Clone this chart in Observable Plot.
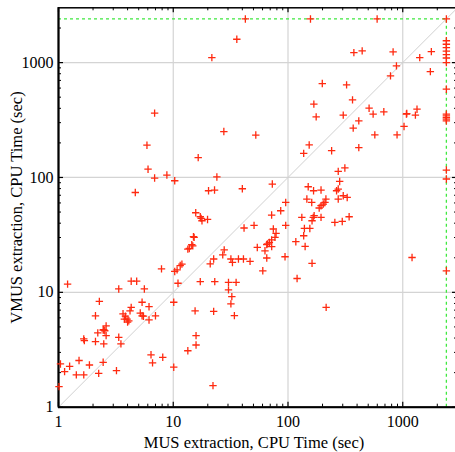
<!DOCTYPE html>
<html><head><meta charset="utf-8">
<script src="https://cdn.jsdelivr.net/npm/d3@7"></script>
<script src="https://cdn.jsdelivr.net/npm/@observablehq/plot@0.6"></script>
<style>body{margin:0;background:#fff}</style>
</head><body><div id="chart"></div>
<script>
// MUS extraction CPU time (x, seconds)
const musTime = [
  1.2, 3.35, 4.3, 4.8, 5.6, 2.27, 5.35, 6.15, 2.1, 4.3,
  4.2, 3.65, 3.83, 3.96, 3.75, 4.1, 4.0, 5.16, 5.35, 5.5,
  6.15, 7.0, 1.66, 1.68, 2.1, 2.2, 2.48, 2.6, 2.45, 2.53,
  2.6, 2.48, 3.35, 3.5, 6.4, 6.6, 8.1, 10.1, 10.1, 15.5,
  22.5, 15.8, 15.8, 13.4, 22.2, 17.2, 23, 7.9, 10.3, 10.8,
  11.5, 11.9, 11.0, 13.4, 13.8, 14.8, 15.2, 21, 22.5, 27.8,
  27, 1.01, 1.04, 1.13, 1.25, 1.51, 1.43, 1.66, 1.86, 2.24,
  2.45, 3.2,
  6.03, 6.88, 8.8, 10.3, 4.67, 21.7, 6.88, 5.9, 16.5, 24,
  20.3, 22.9, 27.6, 15.7, 17.2, 17.8, 19.9, 17.5, 52.4, 40,
  73, 95.5, 86.4, 72, 95.5, 50.6, 41.4, 74.5, 78.7, 77,
  72, 68.8, 66.1, 15, 14.5, 31.8, 32.8, 37, 40.9, 46.7,
  54, 63, 65.3, 72.1, 65.3, 60.3, 94.2, 30.3, 35.3, 30.3,
  32.4, 31.8, 34.1,
  199, 324, 168, 176, 365, 303, 414, 370, 509, 552,
  684, 571, 892, 1026, 1084, 153, 137, 240, 414, 274,
  313, 282, 150, 167, 194, 265, 274, 146, 161, 214,
  210, 274, 303, 328, 203, 194, 187, 132, 166, 169,
  194, 162, 256, 297, 341, 139, 155, 137, 117, 141,
  162, 120, 1205, 215,
  42.5, 35.8, 157, 598, 375, 443, 824, 881, 782, 1406,
  1775, 1740, 1076, 1331, 1289,
  2400, 2400, 2400, 2400, 2400, 2400, 2400, 2400, 2400, 2400,
  2400, 2400, 2400, 2400, 2400, 2400, 2400
];
// VMUS extraction CPU time (y, seconds)
const vmusTime = [
  11.8, 10.7, 12.5, 12.5, 10.7, 8.35, 8.2, 7.5, 6.25, 7.4,
  6.9, 6.5, 6.2, 5.85, 5.85, 5.65, 5.5, 6.6, 6.25, 6.2,
  5.75, 6.25, 3.93, 3.8, 3.73, 4.44, 4.73, 5.1, 4.7, 4.63,
  4.2, 3.56, 4.06, 3.56, 2.86, 2.43, 2.72, 2.23, 8.2, 6.9,
  6.83, 4.2, 3.48, 3.1, 1.54, 12.4, 12.4, 16, 15.2, 15.7,
  17.1, 17.6, 12.0, 23.8, 24.1, 25.4, 30.1, 17.7, 19.5, 23.4,
  21.2, 1.51, 2.38, 2.04, 2.27, 2.55, 1.91, 1.91, 2.33, 1.97,
  2.46, 2.08,
  118, 98.8, 105, 93.6, 74, 1105, 363, 191, 149, 101,
  76.6, 77.7, 251, 49.3, 45.5, 42, 43.1, 44, 234, 79.8,
  87.6, 60.6, 51.3, 47.1, 38.3, 38.3, 36.3, 35.6, 32.6, 30.1,
  28.6, 27.2, 26.4, 30.5, 26, 19.5, 18.2, 19.5, 19.5, 18.6,
  24.6, 23, 26, 25, 19.9, 15.4, 20.4, 12.2, 12.2, 10.5,
  9.18, 7.94, 6.27,
  657, 640, 435, 337, 474, 349, 311, 269, 401, 356,
  373, 235, 235, 278, 360, 192, 162, 171, 182, 113,
  121, 92.3, 83, 76.6, 77.7, 76.6, 79.3, 64.9, 60.6, 64.9,
  60.6, 64.9, 69.3, 67, 58.7, 56.8, 54.2, 44.9, 44.9, 46.5,
  44.9, 42, 40.6, 41.4, 45.5, 36, 36, 31.1, 27.6, 25.1,
  17.9, 13.2, 20.1, 7.4,
  2400, 1597, 2400, 2400, 1222, 1265, 1239, 936, 766, 1105,
  1247, 835, 356, 393, 349,
  2400, 1549, 1445, 1349, 1259, 1175, 1097, 1000, 587, 356,
  344, 332, 322, 311, 116, 97, 15.4
];
const timeout = 2400;
const axisDomain = [1, 3000];
const majorTicks = [1, 10, 100, 1000];
const minorTicks = [2,3,4,5,6,7,8,9,20,30,40,50,60,70,80,90,200,300,400,500,600,700,800,900,2000];
const xLabel = "MUS extraction, CPU Time (sec)";
const yLabel = "VMUS extraction, CPU Time (sec)";

const points = musTime.map((x, i) => ({x, y: vmusTime[i]}));

const W = 455, H = 452;
const mL = 58, mR = -2, mT = 7.3, mB = 45.3;
const innerW = W - mL - mR, innerH = H - mT - mB;

const plusSymbol = {draw(ctx, size) { const r = Math.sqrt(size / Math.PI); ctx.moveTo(-r, 0); ctx.lineTo(r, 0); ctx.moveTo(0, -r); ctx.lineTo(0, r); }};

const gridColor = "#d4d4d4";
const chart = Plot.plot({
  width: W, height: H,
  marginLeft: mL, marginRight: mR, marginTop: mT, marginBottom: mB,
  style: {fontFamily: "'Liberation Serif', 'DejaVu Serif', serif", background: "white", color: "black"},
  x: {type: "log", domain: axisDomain, axis: null},
  y: {type: "log", domain: axisDomain, axis: null},
  marks: [
    Plot.ruleX(majorTicks.slice(1), {x: d => d, stroke: gridColor, strokeWidth: 1.2}),
    Plot.ruleY(majorTicks.slice(1), {y: d => d, stroke: gridColor, strokeWidth: 1.2}),
    Plot.line(axisDomain, {x: d => d, y: d => d, stroke: "#d0d0d0", strokeWidth: 1}),
    Plot.ruleY([timeout], {y: d => d, x1: axisDomain[0], x2: timeout, stroke: "#3fe83f", strokeWidth: 1.3, strokeDasharray: "3,3"}),
    Plot.ruleX([timeout], {x: d => d, y1: axisDomain[0], y2: timeout, stroke: "#3fe83f", strokeWidth: 1.3, strokeDasharray: "3,3"}),
    // inward tick marks on all four sides
    Plot.ruleX(majorTicks, {x: d => d, insetTop: innerH - 5, stroke: "black", strokeWidth: 1.2}),
    Plot.ruleX(minorTicks, {x: d => d, insetTop: innerH - 3, stroke: "black", strokeWidth: 1}),
    Plot.ruleX(majorTicks, {x: d => d, insetBottom: innerH - 5, stroke: "black", strokeWidth: 1.2}),
    Plot.ruleX(minorTicks, {x: d => d, insetBottom: innerH - 3, stroke: "black", strokeWidth: 1}),
    Plot.ruleY(majorTicks, {y: d => d, insetRight: innerW - 5, stroke: "black", strokeWidth: 1.2}),
    Plot.ruleY(minorTicks, {y: d => d, insetRight: innerW - 3, stroke: "black", strokeWidth: 1}),
    Plot.ruleY(majorTicks, {y: d => d, insetLeft: innerW - 5, stroke: "black", strokeWidth: 1.2}),
    Plot.ruleY(minorTicks, {y: d => d, insetLeft: innerW - 3, stroke: "black", strokeWidth: 1}),
    Plot.frame({stroke: "black", strokeWidth: 1.5}),
    Plot.ruleX([axisDomain[0]], {x: d => d, stroke: "black", strokeWidth: 2}),
    Plot.ruleY([axisDomain[0]], {y: d => d, stroke: "black", strokeWidth: 2}),
    Plot.dot(points, {x: "x", y: "y", symbol: plusSymbol, r: 3.7, fill: "none", stroke: "#ff2a10", strokeWidth: 1.3}),
    // tick labels
    Plot.text(majorTicks, {x: d => d, frameAnchor: "bottom", lineAnchor: "middle", textAnchor: "middle", dy: 15, text: d => String(d), fontSize: 16, fill: "black"}),
    Plot.text(majorTicks, {y: d => d, frameAnchor: "left", lineAnchor: "middle", textAnchor: "end", dx: -5, text: d => String(d), fontSize: 16, fill: "black"}),
    // axis titles
    Plot.text([xLabel], {frameAnchor: "bottom", lineAnchor: "middle", textAnchor: "middle", dy: 36, dx: -4, text: d => d, fontSize: 16.5, fill: "black"}),
    Plot.text([yLabel], {frameAnchor: "left", lineAnchor: "middle", textAnchor: "middle", dx: -41.5, rotate: -90, text: d => d, fontSize: 16.5, fill: "black"})
  ]
});
document.getElementById("chart").appendChild(chart);
</script>
</body></html>
